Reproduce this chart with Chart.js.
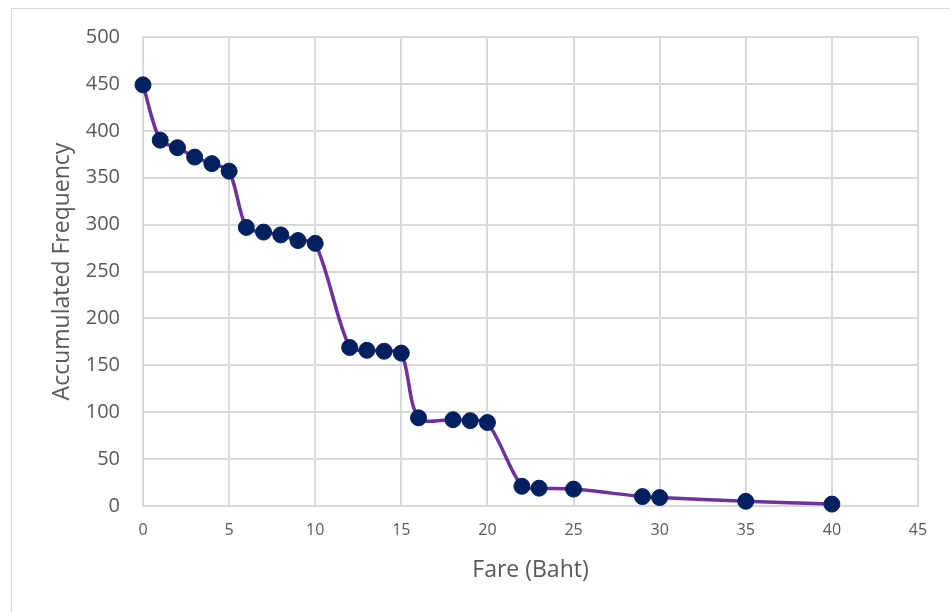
<!DOCTYPE html>
<html>
<head>
<meta charset="utf-8">
<script src="https://cdn.jsdelivr.net/npm/chart.js@4/dist/chart.umd.min.js"></script>
<style>
  html, body { margin: 0; padding: 0; background: #ffffff; overflow: hidden; }
  #wrap { position: relative; width: 950px; height: 612px; }
  #frame { position: absolute; left: 11px; top: 8px; width: 1000px; height: 700px;
           border: 1.5px solid #d9d9d9; box-sizing: border-box; }
  #chart { position: absolute; left: 0; top: 0; }
</style>
</head>
<body>
<div id="wrap">
  <div id="frame"></div>
  <canvas id="chart" width="950" height="612"></canvas>
</div>
<script>
// Fare levels (Baht) and the accumulated number of riders at or above each fare
const fares = [0, 1, 2, 3, 4, 5, 6, 7, 8, 9, 10, 12, 13, 14, 15, 16, 18, 19, 20, 22, 23, 25, 29, 30, 35, 40];
const accumulatedFrequency = [449, 390, 382, 372, 365, 357, 297, 292, 289, 283, 280, 169, 166, 165, 163, 94, 92, 91, 89, 21, 19, 18, 10, 9, 5, 2];

const xTitle = 'Fare (Baht)';
const yTitle = 'Accumulated Frequency';

const points = fares.map((f, i) => ({ x: f, y: accumulatedFrequency[i] }));

const textColor = '#595959';
const gridColor = '#d9d9d9';
const fontFamily = "'Open Sans', 'DejaVu Sans', sans-serif";

new Chart(document.getElementById('chart'), {
  type: 'line',
  data: {
    datasets: [{
      data: points,
      borderColor: '#7030a0',
      borderWidth: 3.5,
      tension: 0.3,
      pointRadius: 8,
      pointHoverRadius: 8,
      pointBackgroundColor: '#002060',
      pointBorderColor: '#002060',
      pointBorderWidth: 1,
      fill: false,
      clip: false
    }]
  },
  options: {
    responsive: false,
    animation: false,
    events: [],
    layout: { padding: { left: 0, top: 37, right: 32, bottom: 0 } },
    plugins: { legend: { display: false }, tooltip: { enabled: false } },
    scales: {
      x: {
        type: 'linear',
        min: 0,
        max: 45,
        afterFit: (s) => { s.height = 106; },
        ticks: { stepSize: 5, color: textColor, padding: 15, font: { family: fontFamily, size: 16 } },
        grid: { color: gridColor, lineWidth: 2, drawTicks: false },
        border: { color: gridColor, width: 2 },
        title: { display: true, text: xTitle, color: textColor, padding: { top: 0, bottom: 28 },
                 font: { family: fontFamily, size: 23 } }
      },
      y: {
        type: 'linear',
        min: 0,
        max: 500,
        afterFit: (s) => { s.width = 143; },
        ticks: { stepSize: 50, color: textColor, padding: 23, font: { family: fontFamily, size: 20 } },
        grid: { color: gridColor, lineWidth: 2, drawTicks: false },
        border: { color: gridColor, width: 2 },
        title: { display: true, text: yTitle, color: textColor, padding: { top: 49, bottom: 0 },
                 font: { family: fontFamily, size: 23 } }
      }
    }
  }
});
</script>
</body>
</html>
